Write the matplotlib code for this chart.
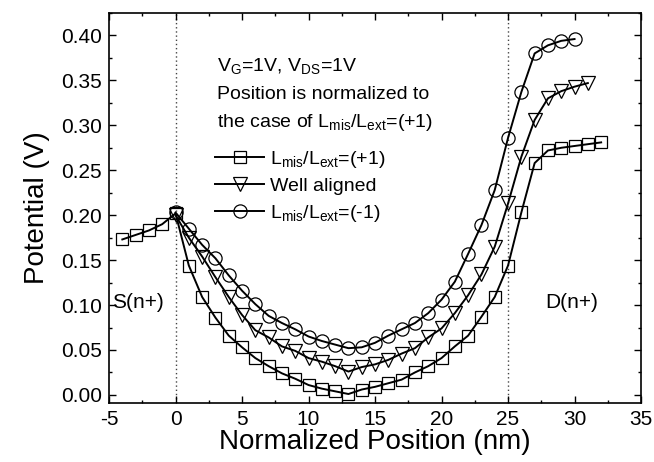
import matplotlib
matplotlib.use("Agg")
import matplotlib.pyplot as plt
from matplotlib.ticker import MultipleLocator

plt.rcParams['font.family'] = ['Liberation Sans', 'DejaVu Sans']
plt.rcParams['mathtext.fontset'] = 'custom'
plt.rcParams['mathtext.rm'] = 'Liberation Sans'
plt.rcParams['mathtext.it'] = 'Liberation Sans'

# Potential along the channel for three misalignment cases
pos_plus = list(range(-4, 33))
pot_plus = [0.173, 0.178, 0.183, 0.190, 0.202,
            0.144, 0.109, 0.086, 0.066, 0.053, 0.041, 0.032, 0.024, 0.018,
            0.011, 0.007, 0.004, 0.001,
            0.006, 0.009, 0.013, 0.017, 0.025, 0.032, 0.041, 0.054, 0.066,
            0.087, 0.109, 0.144,
            0.203, 0.258, 0.272, 0.275, 0.277, 0.279, 0.281]

pos_aligned = list(range(0, 32))
pot_aligned = [0.200, 0.175, 0.154, 0.131, 0.109, 0.089, 0.072, 0.064,
               0.054, 0.049, 0.041, 0.037, 0.032, 0.026, 0.031, 0.034,
               0.039, 0.046, 0.052, 0.064, 0.074, 0.091, 0.111, 0.134,
               0.165, 0.213, 0.265, 0.306, 0.330, 0.338, 0.343, 0.347]

pos_minus = list(range(0, 31))
pot_minus = [0.203, 0.185, 0.167, 0.152, 0.133, 0.116, 0.101, 0.088,
             0.080, 0.073, 0.065, 0.060, 0.056, 0.052, 0.053, 0.058,
             0.066, 0.073, 0.080, 0.091, 0.106, 0.126, 0.157, 0.189,
             0.228, 0.286, 0.337, 0.380, 0.389, 0.394, 0.396]

series_labels = [r'L$_{\mathregular{mis}}$/L$_{\mathregular{ext}}$=(+1)',
                 'Well aligned',
                 r'L$_{\mathregular{mis}}$/L$_{\mathregular{ext}}$=(-1)']
x_ticks = [-5, 0, 5, 10, 15, 20, 25, 30, 35]
y_ticks = [0.00, 0.05, 0.10, 0.15, 0.20, 0.25, 0.30, 0.35, 0.40]
junctions = [0, 25]

fig = plt.figure(figsize=(6.54, 4.62), dpi=100)
ax = fig.add_axes([0.1667, 0.1277, 0.8135, 0.8442])

common = dict(color='black', lw=1.4, mfc='none', mec='black', mew=0.9)
ax.plot(pos_plus, pot_plus, marker='s', ms=8, label=series_labels[0], **common)
ax.plot(pos_aligned, pot_aligned, marker='v', ms=9.5, label=series_labels[1], **common)
ax.plot(pos_minus, pot_minus, marker='o', ms=9.5, label=series_labels[2], **common)

for xj in junctions:
    ax.axvline(xj, color='#444444', lw=1.0, ls=(0, (1, 2)), zorder=0)

ax.set_xlim(-5, 35)
ax.set_ylim(-0.009, 0.425)
ax.set_xticks(x_ticks)
ax.set_yticks(y_ticks)
ax.set_xticklabels([str(v) for v in x_ticks])
ax.set_yticklabels([f'{v:.2f}' for v in y_ticks])
ax.xaxis.set_minor_locator(MultipleLocator(2.5))
ax.yaxis.set_minor_locator(MultipleLocator(0.025))
ax.tick_params(which='both', direction='in', top=True, right=True,
               labelsize=15, width=1.0)
ax.tick_params(which='major', length=5, pad=5)
ax.tick_params(which='minor', length=2.5)
for sp in ax.spines.values():
    sp.set_linewidth(1.2)

ax.set_xlabel('Normalized Position (nm)', fontsize=20, labelpad=0)
ax.set_ylabel('Potential (V)', fontsize=20, labelpad=8)

txt = 14
ax.text(3.1, 0.360, r'V$_{\mathregular{G}}$=1V, V$_{\mathregular{DS}}$=1V', fontsize=txt, va='baseline')
ax.text(3.1, 0.329, 'Position is normalized to', fontsize=txt, va='baseline')
ax.text(3.1, 0.298, r'the case of L$_{\mathregular{mis}}$/L$_{\mathregular{ext}}$=(+1)',
        fontsize=txt, va='baseline')
ax.text(-4.8, 0.103, 'S(n+)', fontsize=15, va='center')
ax.text(27.8, 0.103, 'D(n+)', fontsize=15, va='center')

ax.legend(loc='upper left', bbox_to_anchor=(0.185, 0.672), frameon=False,
          fontsize=txt, handlelength=2.5, handletextpad=0.3,
          labelspacing=0.4, borderaxespad=0)

fig.savefig('out.png', dpi=100)
